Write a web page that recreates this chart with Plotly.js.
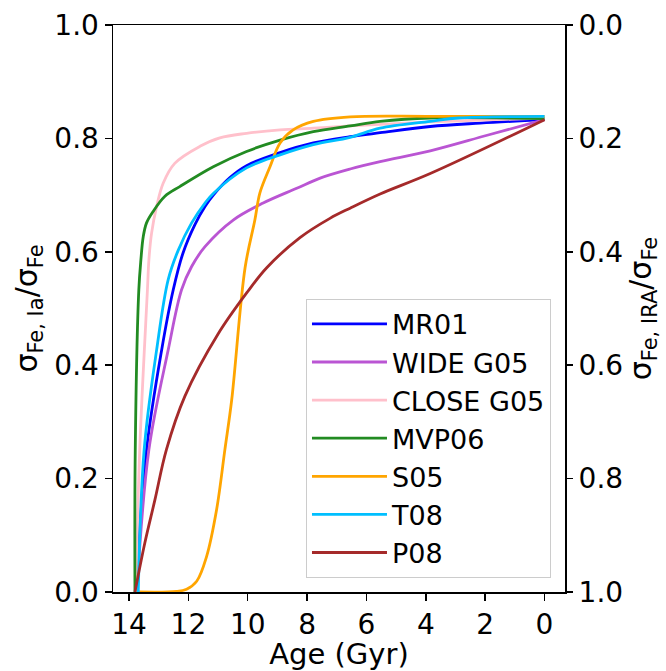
<!DOCTYPE html>
<html>
<head>
<meta charset="utf-8">
<script src="https://cdn.plot.ly/plotly-3.0.1.min.js"></script>
<style>html,body{margin:0;padding:0;background:#fff;}#chart{width:666px;height:671px;}</style>
</head>
<body>
<div id="chart"></div>
<script>
// Series names and colours
const seriesNames = ["MR01", "WIDE G05", "CLOSE G05", "MVP06", "S05", "T08", "P08"];
const seriesColors = ["#0000ff", "#ba55d3", "#ffc0cb", "#228b22", "#ffa500", "#00bfff", "#a52a2a"];

// MR01
const mr01Age = [13.77, 13.41, 12.90, 12.51, 12.18, 11.78, 11.44, 11.16, 10.60, 10.04, 8.91, 7.79, 6.55, 5.54, 3.85, 2.17, 0];
const mr01Val = [0, 0.251, 0.427, 0.533, 0.598, 0.648, 0.680, 0.700, 0.731, 0.752, 0.775, 0.792, 0.803, 0.810, 0.821, 0.827, 0.833];

// WIDE G05
const wideAge = [13.74, 13.33, 12.68, 12.23, 11.89, 11.44, 10.49, 9.48, 8.35, 7.56, 6.55, 5.54, 3.85, 1.9, 0];
const wideVal = [0, 0.251, 0.427, 0.533, 0.574, 0.609, 0.656, 0.686, 0.712, 0.730, 0.746, 0.759, 0.778, 0.806, 0.833];

// CLOSE G05
const closeAge = [13.77, 13.64, 13.38, 13.33, 13.24, 13.07, 12.85, 12.46, 11.61, 10.94, 10.04, 8.91, 7.79, 6.55, 3.85, 0];
const closeVal = [0, 0.251, 0.533, 0.586, 0.633, 0.680, 0.721, 0.756, 0.786, 0.801, 0.809, 0.815, 0.818, 0.822, 0.829, 0.836];

// MVP06
const mvpAge = [13.80, 13.79, 13.67, 13.60, 13.52, 13.41, 13.19, 12.79, 12.29, 11.16, 10.04, 8.91, 7.79, 6.55, 5.54, 3.85, 0];
const mvpVal = [0, 0.251, 0.533, 0.586, 0.627, 0.651, 0.671, 0.698, 0.715, 0.750, 0.777, 0.797, 0.812, 0.822, 0.830, 0.836, 0.835];

// S05
const s05Age = [13.69, 12.4, 12.06, 11.72, 11.39, 11.05, 10.77, 10.54, 10.09, 9.76, 9.59, 9.25, 8.91, 8.47, 7.79, 6.55, 3.85, 0];
const s05Val = [0, 0.001, 0.005, 0.019, 0.062, 0.145, 0.251, 0.339, 0.572, 0.656, 0.704, 0.750, 0.792, 0.815, 0.830, 0.838, 0.839, 0.839];

// T08
const t08Age = [13.69, 13.49, 13.07, 12.68, 12.34, 11.89, 11.44, 11.16, 10.04, 8.91, 7.79, 6.55, 5.54, 3.85, 2.9, 0];
const t08Val = [0, 0.251, 0.427, 0.551, 0.603, 0.651, 0.686, 0.703, 0.748, 0.771, 0.789, 0.802, 0.818, 0.830, 0.836, 0.839];

// P08
const p08Age = [13.80, 13.47, 13.13, 12.74, 12.12, 11.0, 10.0, 9.36, 8.24, 7.23, 6.55, 5.54, 3.85, 0];
const p08Val = [0, 0.086, 0.162, 0.251, 0.345, 0.455, 0.530, 0.572, 0.625, 0.659, 0.677, 0.702, 0.738, 0.833];

const xTicks = [14, 12, 10, 8, 6, 4, 2, 0];
const yTicks = [0, 0.2, 0.4, 0.6, 0.8, 1.0];

const allAges = [mr01Age, wideAge, closeAge, mvpAge, s05Age, t08Age, p08Age];
const allVals = [mr01Val, wideVal, closeVal, mvpVal, s05Val, t08Val, p08Val];

const font = "DejaVu Sans, sans-serif";
const traces = seriesNames.map((n, i) => ({
  type: "scatter", mode: "lines", name: n,
  x: allAges[i], y: allVals[i],
  line: {color: seriesColors[i], width: 2.8, shape: "spline", smoothing: 1.0},
  hoverinfo: "skip"
}));
traces.push({type: "scatter", mode: "lines", x: [], y: [], yaxis: "y2", showlegend: false, hoverinfo: "skip"});

const layout = {
  width: 666, height: 671,
  margin: {l: 113, r: 101, t: 25, b: 79, pad: 0},
  paper_bgcolor: "#ffffff", plot_bgcolor: "#ffffff",
  font: {family: font, color: "#000", size: 28},
  showlegend: true,
  xaxis: {
    range: [14.54, -0.69], tickvals: xTicks, ticks: "outside", ticklen: 7, tickwidth: 1.5, tickcolor: "#000",
    showline: true, linecolor: "#000", linewidth: 1.5, mirror: true, showgrid: false, zeroline: false,
    tickfont: {family: font, size: 28, color: "#000"},
    title: {text: "Age (Gyr)", font: {family: font, size: 29, color: "#000"}, standoff: 2}
  },
  yaxis: {
    range: [0, 1], tickvals: yTicks, tickformat: ".1f", ticks: "outside", ticklen: 7, tickwidth: 1.5, tickcolor: "#000",
    showline: true, linecolor: "#000", linewidth: 1.5, mirror: true, showgrid: false, zeroline: false,
    tickfont: {family: font, size: 28, color: "#000"},
    title: {text: "σ<sub>Fe, Ia</sub>/σ<sub>Fe</sub>", font: {family: font, size: 30, color: "#000"}, standoff: 8}
  },
  yaxis2: {
    overlaying: "y", side: "right", range: [1, 0], tickvals: yTicks, tickformat: ".1f",
    ticks: "outside", ticklen: 7, tickwidth: 1.5, tickcolor: "#000",
    showline: false, showgrid: false, zeroline: false,
    tickfont: {family: font, size: 28, color: "#000"},
    title: {text: "σ<sub>Fe, IRA</sub>/σ<sub>Fe</sub>", font: {family: font, size: 30, color: "#000"}, standoff: 6}
  },
  legend: {
    x: 0.969, y: 0.025, xanchor: "right", yanchor: "bottom",
    bgcolor: "rgba(255,255,255,0.8)", bordercolor: "#cccccc", borderwidth: 1,
    font: {family: font, size: 27, color: "#000"}, itemwidth: 75
  }
};

Plotly.newPlot("chart", traces, layout, {staticPlot: true, displayModeBar: false});
</script>
</body>
</html>
